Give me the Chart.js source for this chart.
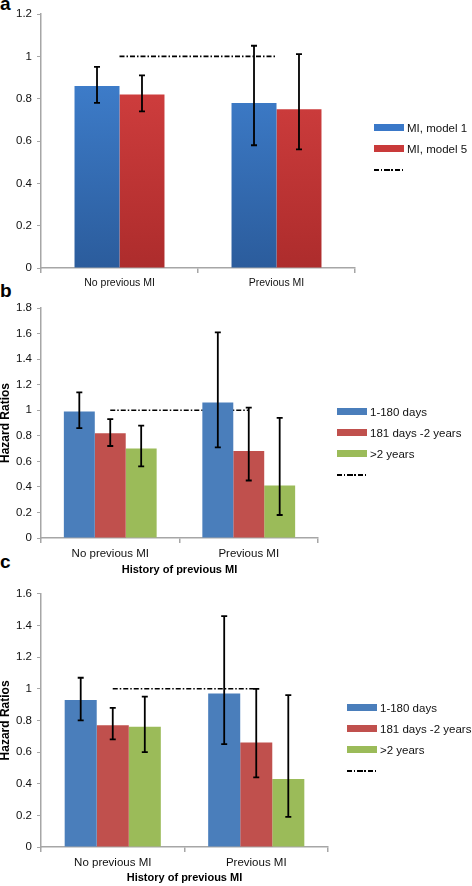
<!DOCTYPE html>
<html>
<head>
<meta charset="utf-8">
<script src="https://cdn.jsdelivr.net/npm/chart.js@4.4.1/dist/chart.umd.min.js"></script>
<style>
  body { margin: 0; background: #fff; font-family: "Liberation Sans", Arial, sans-serif; }
  #page { position: relative; width: 472px; height: 886px; overflow: hidden; }
  canvas { position: absolute; left: 0; }
  .tag { position: absolute; left: 0; font: bold 19px "Liberation Sans", Arial, sans-serif; line-height: 1; color: #000; }
  .legend { position: absolute; font-size: 11.5px; color: #111; }
  .legend .row { position: absolute; left: 0; white-space: nowrap; height: 14px; line-height: 14px; }
  .sw { display: inline-block; width: 30px; height: 7px; vertical-align: middle; margin-right: 3px; position: relative; top: -1px; }
  .sw.dash { height: 1.5px; background: repeating-linear-gradient(90deg, #000 0 5px, transparent 5px 7px, #000 7px 8.5px, transparent 8.5px 10.5px); }
</style>
</head>
<body>
<div id="page">
  <div class="tag" style="top:-6px">a</div>
  <div class="tag" style="top:281px">b</div>
  <div class="tag" style="top:552px">c</div>

  <canvas id="chartA" width="472" height="290" style="top:0"></canvas>
  <canvas id="chartB" width="472" height="292" style="top:290px"></canvas>
  <canvas id="chartC" width="472" height="304" style="top:582px"></canvas>

  <div class="legend" id="legendA" style="left:374px; top:121px"></div>
  <div class="legend" id="legendB" style="left:337px; top:405px"></div>
  <div class="legend" id="legendC" style="left:347px; top:701px"></div>
</div>

<script>
'use strict';

const categories = ['No previous MI', 'Previous MI'];
const refLine = [1, 1];

// panel a
const aLabels = ['MI, model 1', 'MI, model 5'];
const aModel1 = [0.86, 0.78];
const aModel1Lo = [0.78, 0.58];
const aModel1Hi = [0.95, 1.05];
const aModel5 = [0.82, 0.75];
const aModel5Lo = [0.74, 0.56];
const aModel5Hi = [0.91, 1.01];
const aTicks = ['0', '0.2', '0.4', '0.6', '0.8', '1', '1.2'];

// panels b and c share the legend
const timeLabels = ['1-180 days', '181 days -2 years', '>2 years'];
const yTitle = 'Hazard Ratios';
const xTitle = 'History of previous MI';

// panel b
const bShort = [0.99, 1.06];
const bShortLo = [0.86, 0.71];
const bShortHi = [1.14, 1.61];
const bMid = [0.82, 0.68];
const bMidLo = [0.72, 0.45];
const bMidHi = [0.93, 1.02];
const bLong = [0.70, 0.41];
const bLongLo = [0.56, 0.18];
const bLongHi = [0.88, 0.94];
const bTicks = ['0', '0.2', '0.4', '0.6', '0.8', '1', '1.2', '1.4', '1.6', '1.8'];

// panel c
const cShort = [0.93, 0.97];
const cShortLo = [0.80, 0.65];
const cShortHi = [1.07, 1.46];
const cMid = [0.77, 0.66];
const cMidLo = [0.68, 0.44];
const cMidHi = [0.88, 1.00];
const cLong = [0.76, 0.43];
const cLongLo = [0.60, 0.19];
const cLongHi = [0.95, 0.96];
const cTicks = ['0', '0.2', '0.4', '0.6', '0.8', '1', '1.2', '1.4', '1.6'];

const BLUE = '#4a7ebb';
const RED = '#c0504d';
const GREEN = '#9bbb59';
const AXIS = '#a6a6a6';
const FONT = '"Liberation Sans", Arial, sans-serif';

// vertical gradient over the plot area (panel a bars)
function vGrad(top, bottom) {
  return c => {
    const area = c.chart.chartArea;
    if (!area) return top;
    const g = c.chart.ctx.createLinearGradient(0, area.top, 0, area.bottom);
    g.addColorStop(0, top);
    g.addColorStop(1, bottom);
    return g;
  };
}

const errorBars = {
  id: 'errorBars',
  afterDatasetsDraw(chart) {
    const { ctx } = chart;
    const y = chart.scales.y;
    ctx.save();
    ctx.strokeStyle = '#000';
    ctx.lineWidth = 1.8;
    chart.data.datasets.forEach((ds, i) => {
      if (!ds.lo) return;
      const meta = chart.getDatasetMeta(i);
      meta.data.forEach((bar, j) => {
        const top = y.getPixelForValue(ds.hi[j]);
        const bot = y.getPixelForValue(ds.lo[j]);
        ctx.beginPath();
        ctx.moveTo(bar.x, top); ctx.lineTo(bar.x, bot);
        ctx.moveTo(bar.x - 3, top); ctx.lineTo(bar.x + 3, top);
        ctx.moveTo(bar.x - 3, bot); ctx.lineTo(bar.x + 3, bot);
        ctx.stroke();
      });
    });
    ctx.restore();
  },
};

function barSet(label, data, lo, hi, color) {
  return { type: 'bar', label, data, lo, hi, backgroundColor: color, borderWidth: 0, order: 0 };
}

function lineSet() {
  return {
    type: 'line', label: '', data: refLine, borderColor: '#000', borderWidth: 1.6,
    borderDash: [5, 2, 1.5, 2], pointRadius: 0, fill: false, order: 1,
  };
}

function makeChart(id, cfg) {
  return new Chart(document.getElementById(id), {
    type: 'bar',
    data: { labels: categories, datasets: cfg.datasets },
    options: {
      responsive: false,
      animation: false,
      devicePixelRatio: 1,
      categoryPercentage: cfg.catPct,
      barPercentage: 1,
      layout: { padding: { top: cfg.padTop, right: cfg.padRight, left: 0, bottom: 0 } },
      plugins: { legend: { display: false }, tooltip: { enabled: false } },
      scales: {
        x: {
          offset: true,
          grid: { offset: true, drawOnChartArea: false, tickLength: 5, color: AXIS, lineWidth: 1.5 },
          border: { color: AXIS, width: 1.5 },
          ticks: { color: '#111', font: { family: FONT, size: cfg.xFont }, padding: 4, maxRotation: 0 },
          title: cfg.xTitle
            ? { display: true, text: cfg.xTitle, color: '#000', font: { family: FONT, size: 11, weight: 'bold' }, padding: { top: 0, bottom: cfg.xTitlePad } }
            : { display: false },
          afterFit: s => { s.height = cfg.xHeight; },
        },
        y: {
          min: 0,
          max: cfg.yMax,
          ticks: {
            stepSize: 0.2, color: '#111', font: { family: FONT, size: 11.5 }, padding: 5,
            callback: (v, i) => cfg.ticks[i],
          },
          grid: { drawOnChartArea: false, tickLength: 4, color: AXIS, lineWidth: 1 },
          border: { color: AXIS, width: 1.5 },
          title: cfg.yTitle
            ? { display: true, text: cfg.yTitle, color: '#000', font: { family: FONT, size: 12, weight: 'bold', lineHeight: 1 }, padding: 0 }
            : { display: false },
          afterFit: s => { s.width = 41; },
        },
      },
    },
    plugins: [errorBars],
  });
}

makeChart('chartA', {
  datasets: [
    barSet(aLabels[0], aModel1, aModel1Lo, aModel1Hi, vGrad('#4488da', '#2b5c9c')),
    barSet(aLabels[1], aModel5, aModel5Lo, aModel5Hi, vGrad('#dc4444', '#ad2c2c')),
    lineSet(),
  ],
  catPct: 0.573, padTop: 14, padRight: 117, xHeight: 22, xFont: 10.5,
  yMax: 1.2, ticks: aTicks,
});

makeChart('chartB', {
  datasets: [
    barSet(timeLabels[0], bShort, bShortLo, bShortHi, BLUE),
    barSet(timeLabels[1], bMid, bMidLo, bMidHi, RED),
    barSet(timeLabels[2], bLong, bLongLo, bLongHi, GREEN),
    lineSet(),
  ],
  catPct: 0.67, padTop: 18, padRight: 154, xHeight: 44, xFont: 11.5, xTitle, xTitlePad: 5,
  yMax: 1.8, ticks: bTicks, yTitle,
});

makeChart('chartC', {
  datasets: [
    barSet(timeLabels[0], cShort, cShortLo, cShortHi, BLUE),
    barSet(timeLabels[1], cMid, cMidLo, cMidHi, RED),
    barSet(timeLabels[2], cLong, cLongLo, cLongHi, GREEN),
    lineSet(),
  ],
  catPct: 0.67, padTop: 10, padRight: 144, xHeight: 39, xFont: 11.5, xTitle, xTitlePad: 1,
  yMax: 1.6, ticks: cTicks, yTitle,
});

function renderLegend(id, labels, colors) {
  const el = document.getElementById(id);
  const rows = labels.map((l, i) =>
    `<div class="row" style="top:${i * 21}px"><span class="sw" style="background:${colors[i]}"></span>${l}</div>`);
  rows.push(`<div class="row" style="top:${labels.length * 21}px"><span class="sw dash"></span></div>`);
  el.innerHTML = rows.join('');
}

renderLegend('legendA', aLabels, ['#3a78c8', '#c93a3a']);
renderLegend('legendB', timeLabels, [BLUE, RED, GREEN]);
renderLegend('legendC', timeLabels, [BLUE, RED, GREEN]);
</script>
</body>
</html>
